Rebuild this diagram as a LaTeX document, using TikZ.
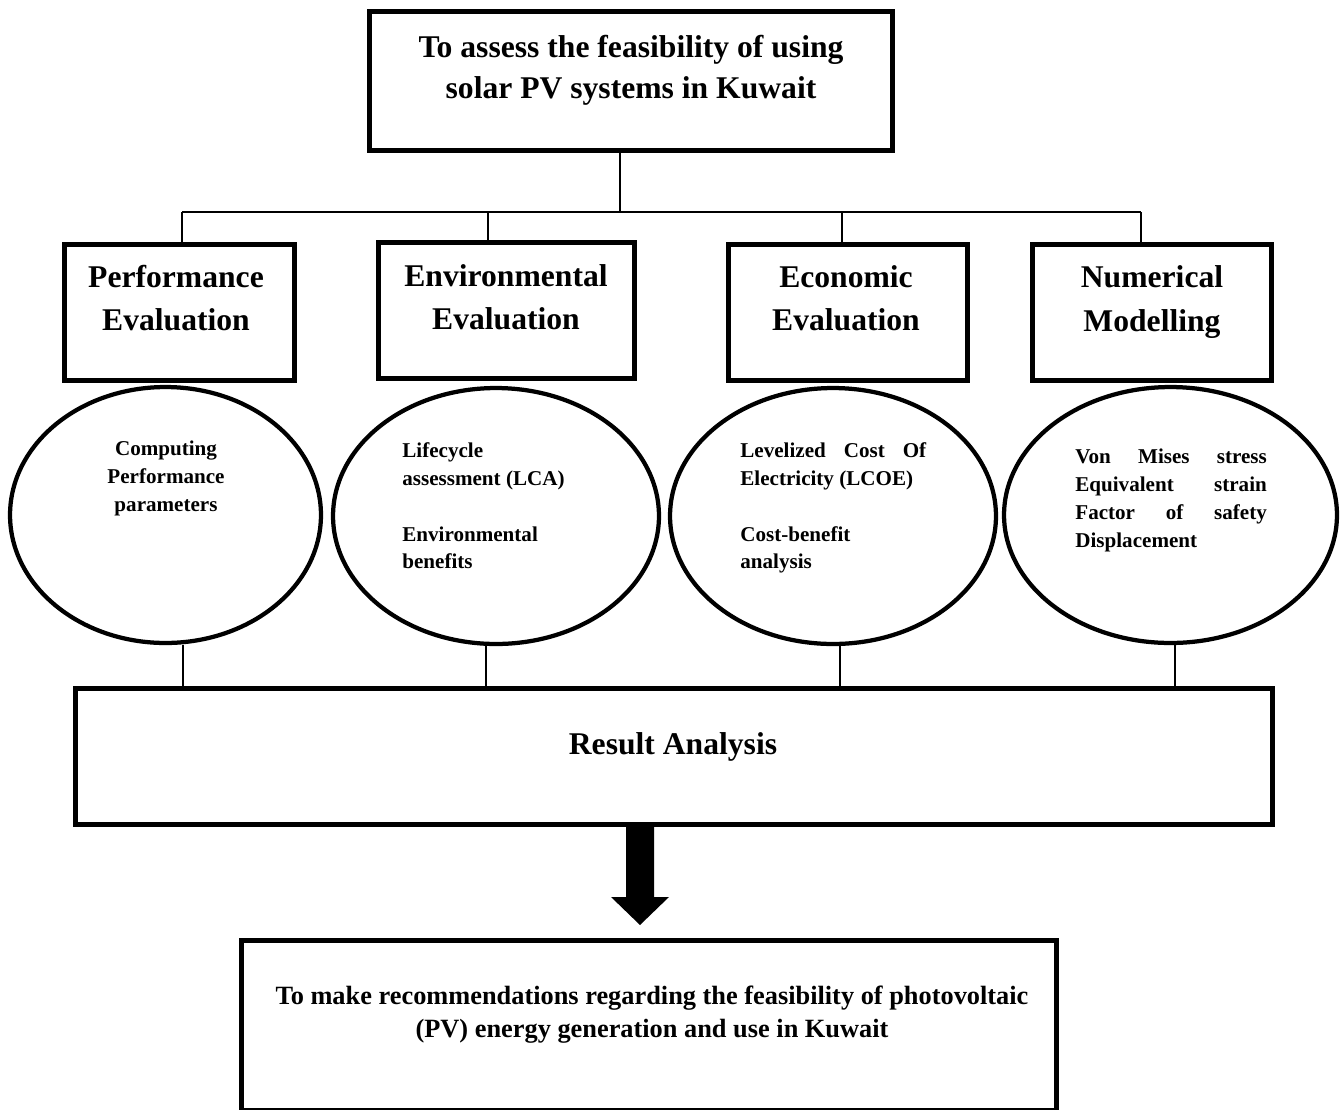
\documentclass[tikz,border=0pt]{standalone}
\usepackage{fontspec}
\setmainfont{Liberation Serif}
\usepackage{tikz}
\usetikzlibrary{shapes.geometric,positioning,calc}

\begin{document}
\begin{tikzpicture}[x=0.02cm, y=-0.02cm,
    blk/.style={draw, line width=0.1cm, inner sep=0pt, minimum height=2.72cm},
    oval/.style={draw, ellipse, line width=0.085cm, inner sep=0pt, minimum height=5.12cm},
    link/.style={line width=0.03cm},
    head/.style={font=\fontsize{18}{24.5}\selectfont\bfseries, align=center, inner sep=0pt},
    small/.style={font=\fontsize{12}{15.9}\selectfont\bfseries, inner sep=0pt}]
    \useasboundingbox (0,0) rectangle (1341,1109);

    % aim of the study
    \node [blk, minimum width=10.46cm, minimum height=2.78cm] (aim) at (631,81) {};
    \node [head, font=\fontsize{18}{23.5}\selectfont\bfseries] (aimT) at (631,70) {To assess the feasibility of using\\solar PV systems in Kuwait};

    % the four evaluations
    \node [blk, minimum width=4.6cm] (perf) at (179.5,312.5) {};
    \node [blk, minimum width=5.12cm] (env) at (506.5,310.5) {};
    \node [blk, minimum width=4.78cm] (econ) at (848,312.5) {};
    \node [blk, minimum width=4.78cm] (num) at (1152,312.5) {};
    \node [head] (perfT) at (176,298) {Performance\\Evaluation};
    \node [head] (envT) at (506,297.5) {Environmental\\Evaluation};
    \node [head] (econT) at (846,298) {Economic\\Evaluation};
    \node [head] (numT) at (1152,302) {Numerical\\Modelling};

    % bus
    \coordinate (b1) at (182,212);
    \coordinate (b2) at (488,212);
    \coordinate (b3) at (842,212);
    \coordinate (b4) at (1141,212);
    \draw [link] (620,0 |- aim.south) -- (620,212);
    \draw [link] (b1) -- (b4);
    \foreach \b/\n in {b1/perf, b2/env, b3/econ, b4/num}
        \draw [link] (\b) -- (\b |- \n.north);

    % what is computed
    \node [oval, minimum width=6.22cm] (e1) at (165.5,515) {};
    \node [oval, minimum width=6.52cm] (e2) at (496,516) {};
    \node [oval, minimum width=6.52cm] (e3) at (833,516) {};
    \node [oval, minimum width=6.66cm] (e4) at (1170.5,515) {};
    \node [small, align=center, anchor=north] (e1T) at (166,441) {Computing\\Performance\\parameters};
    \node [small, align=left, anchor=north west] (e2T) at (402,442) {Lifecycle\\assessment (LCA)\\[15.9pt]Environmental\\benefits};
    \node [small, align=left, anchor=north west] (e3T) at (740,442) {\makebox[105.8pt][s]{Levelized Cost Of}\\Electricity (LCOE)\\[15.9pt]Cost-benefit\\analysis};
    \node [small, align=left, anchor=north west] (e4T) at (1075,449) {\makebox[109pt][s]{Von Mises stress}\\\makebox[109pt][s]{Equivalent strain}\\\makebox[109pt][s]{Factor of safety}\\Displacement};

    % results
    \node [blk, minimum width=23.94cm] (result) at (674,756.5) {};
    \node [head] (resultT) at (673,747) {Result Analysis};
    \foreach \x/\e in {183/e1, 486/e2, 840/e3, 1175/e4}
        \draw [link] (\x,0 |- \e.south) -- (\x,0 |- result.north);

    % block arrow
    \coordinate (a0) at ($(result.south)+(-34,0)$);
    \fill (a0) ++(-14,0) -- ++(0,70) -- ++(-15,0) -- ++(29,28) -- ++(29,-28) -- ++(-15,0) -- ++(0,-70) -- cycle;

    % recommendation
    \node [blk, minimum width=16.3cm, minimum height=3.4cm] (rec) at (649,1025) {};
    \node [head, font=\fontsize{15}{18.8}\selectfont\bfseries] (recT) at (652,1015) {To make recommendations regarding the feasibility of photovoltaic\\(PV) energy generation and use in Kuwait};
\end{tikzpicture}
\end{document}
